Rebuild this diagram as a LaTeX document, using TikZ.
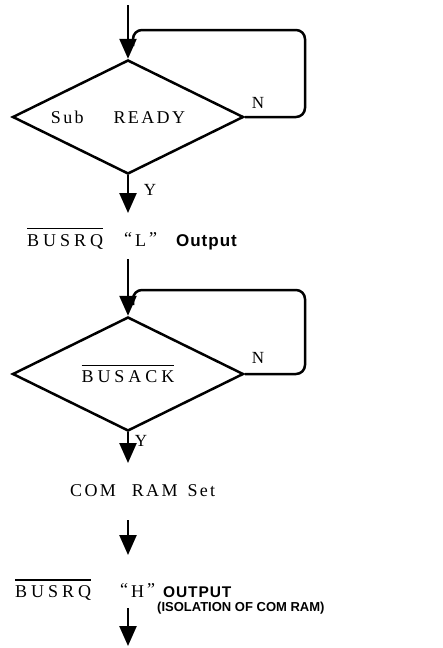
\documentclass[tikz,border=0pt]{standalone}
\usepackage{fontspec}
\usetikzlibrary{shapes.geometric,arrows.meta}

\newfontfamily\flowfont{Liberation Serif}[LetterSpace=13]
\newfontfamily\notefont{Liberation Sans}[LetterSpace=6]
\newfontfamily\remfont{Liberation Sans}
% signal name with an active-low bar
\newcommand\lowsig[1]{\vbox{\hrule height 1.2pt\kern 5pt\hbox{\addfontfeature{LetterSpace=22}#1}}}
% quoted logic level
\newcommand\level[1]{\raisebox{2pt}{“}\hspace{3pt}#1\hspace{3pt}\raisebox{2pt}{”}}

\tikzset{
  test/.style={draw, diamond, aspect=2, line width=2.5pt, minimum width=231pt,
    minimum height=114pt, inner sep=0pt, font=\flowfont\fontsize{18}{21}\selectfont},
  flow/.style={line width=2.5pt, -{Triangle[length=20pt,width=17pt]}},
  back/.style={line width=2.5pt, rounded corners=9pt},
  stepline/.style={inner sep=0pt, font=\flowfont\fontsize{18}{21}\selectfont},
  branch/.style={inner sep=0pt, font=\flowfont\fontsize{17}{20}\selectfont},
}

\begin{document}
\begin{tikzpicture}[x=1pt,y=-1pt]
\useasboundingbox (0,0) rectangle (443,648);

% first wait loop
\coordinate (in1) at (128,5);
\node[test] (d1) at (128,117) {Sub\hspace{30pt}READY\hspace{20pt}\null};
\coordinate (j1) at (133,46);
\draw[flow] (in1) -- (d1.north);
\draw[back] (d1.east) -| (305,30) -| (j1);
\node[branch] (n1) at (258,103) {N};
\coordinate (o1) at (128,213);
\draw[flow] (d1.south) -- (o1);
\node[branch] (y1) at (150,190) {Y};

\node[stepline, anchor=west] (rql) at (27,239)
  {\lowsig{BUSRQ}\hspace{21pt}\level{L}\hspace{19pt}{\notefont\bfseries\fontsize{17}{19}\selectfont Output}};

% second wait loop
\coordinate (in2) at (128,259);
\node[test] (d2) at (128,374) {\lowsig{BUSACK}};
\coordinate (j2) at (133,305);
\draw[flow] (in2) -- (d2.north);
\draw[back] (d2.east) -| (305,290) -| (j2);
\node[branch] (n2) at (258,358) {N};
\coordinate (o2) at (128,463);
\draw[flow] (d2.south) -- (o2);
\node[branch] (y2) at (141,441) {Y};

\node[stepline, anchor=west] (ram) at (70,491) {COM\hspace{16pt}RAM\hspace{10pt}Set};

\coordinate (a3) at (128,520);
\coordinate (b3) at (128,555);
\draw[flow] (a3) -- (b3);

\node[stepline, anchor=west] (rqh) at (15,590)
  {\lowsig{BUSRQ}\hspace{29pt}\level{H}\hspace{8pt}{\notefont\bfseries\fontsize{15.5}{18}\selectfont OUTPUT}};
\node[inner sep=0pt, anchor=west, font=\remfont\bfseries\fontsize{13}{16}\selectfont] (iso) at (157,608)
  {(ISOLATION OF COM RAM)};

\coordinate (a4) at (128,608);
\coordinate (b4) at (128,646);
\draw[flow] (a4) -- (b4);
\end{tikzpicture}
\end{document}
